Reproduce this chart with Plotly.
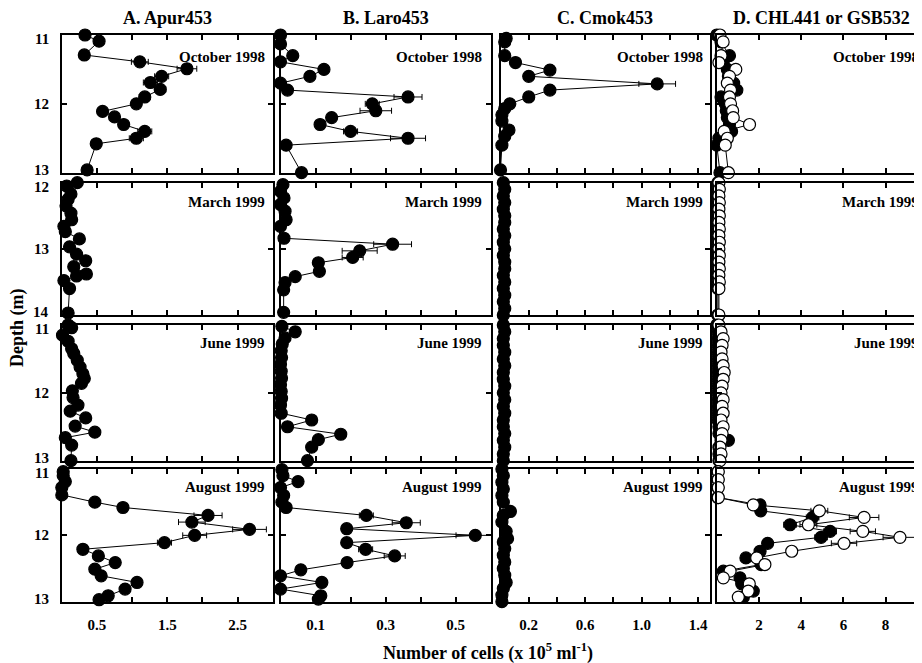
import plotly.graph_objects as go

# ---------------- DATA ----------------
# Column A: Apur453 (x 10^5 cells/ml)
A_oct_depth = [11.0, 11.09, 11.29, 11.39, 11.49, 11.6, 11.69, 11.79, 11.9, 12.0, 12.11, 12.19, 12.3, 12.4, 12.5, 12.58, 12.96]
A_oct_cells = [0.33, 0.53, 0.32, 1.11, 1.78, 1.42, 1.26, 1.40, 1.18, 1.06, 0.58, 0.75, 0.88, 1.18, 1.06, 0.49, 0.36]
A_oct_err = [0, 0, 0, 0.12, 0.14, 0.10, 0.10, 0.08, 0.08, 0.05, 0, 0, 0.05, 0.10, 0.10, 0, 0]

A_mar_depth = [12.0, 12.05, 12.17, 12.25, 12.35, 12.46, 12.56, 12.66, 12.74, 12.85, 12.97, 13.08, 13.18, 13.27, 13.38, 13.41, 13.48, 13.6, 13.97]
A_mar_cells = [0.22, 0.07, 0.13, 0.09, 0.06, 0.13, 0.14, 0.03, 0.05, 0.25, 0.11, 0.21, 0.34, 0.17, 0.35, 0.21, 0.03, 0.11, 0.09]

A_jun_depth = [11.0, 11.04, 11.15, 11.24, 11.35, 11.42, 11.52, 11.62, 11.72, 11.79, 11.86, 11.97, 12.07, 12.18, 12.27, 12.37, 12.49, 12.58, 12.66, 12.77, 13.0]
A_jun_cells = [0.09, 0.14, 0.01, 0.09, 0.14, 0.17, 0.22, 0.26, 0.30, 0.32, 0.28, 0.15, 0.16, 0.23, 0.12, 0.34, 0.19, 0.47, 0.05, 0.14, 0.13]

A_aug_depth = [11.04, 11.1, 11.19, 11.28, 11.39, 11.5, 11.58, 11.7, 11.8, 11.91, 12.0, 12.11, 12.21, 12.31, 12.41, 12.51, 12.61, 12.71, 12.81, 12.91, 12.97]
A_aug_cells = [0.02, 0.02, 0.05, 0.0, 0.0, 0.47, 0.87, 2.08, 1.85, 2.67, 1.89, 1.46, 0.30, 0.52, 0.76, 0.47, 0.56, 1.07, 0.90, 0.66, 0.53]
A_aug_err = [0, 0, 0, 0, 0, 0, 0, 0.20, 0.19, 0.24, 0.17, 0.10, 0, 0, 0, 0, 0, 0, 0, 0, 0]

# Column B: Laro453
B_oct_depth = [11.0, 11.13, 11.3, 11.39, 11.5, 11.6, 11.7, 11.8, 11.9, 12.0, 12.1, 12.2, 12.3, 12.4, 12.5, 12.6, 13.0]
B_oct_cells = [0.0, 0.0, 0.035, 0.0, 0.124, 0.084, 0.0, 0.02, 0.364, 0.262, 0.272, 0.146, 0.113, 0.20, 0.364, 0.016, 0.06]
B_oct_err = [0, 0, 0, 0, 0, 0, 0, 0, 0.04, 0.02, 0.045, 0, 0, 0.02, 0.05, 0, 0]

B_mar_depth = [12.03, 12.13, 12.23, 12.33, 12.43, 12.56, 12.66, 12.84, 12.93, 13.03, 13.13, 13.21, 13.34, 13.42, 13.51, 13.62, 13.96]
B_mar_cells = [0.007, 0.0, 0.01, 0.0, 0.013, 0.016, 0.0, 0.01, 0.32, 0.226, 0.206, 0.108, 0.111, 0.042, 0.013, 0.009, 0.009]
B_mar_err = [0, 0, 0, 0, 0, 0, 0, 0, 0.054, 0.05, 0.03, 0, 0, 0, 0, 0, 0]

B_jun_depth = [11.02, 11.1, 11.19, 11.28, 11.38, 11.48, 11.58, 11.68, 11.78, 11.88, 11.98, 12.08, 12.18, 12.3, 12.4, 12.5, 12.61, 12.69, 12.8, 13.0]
B_jun_cells = [0.004, 0.042, 0.013, 0.005, 0.002, 0.003, 0.0, 0.002, 0.003, 0.0, 0.002, 0.003, 0.0, 0.002, 0.089, 0.02, 0.172, 0.108, 0.089, 0.077]

B_aug_depth = [11.01, 11.1, 11.19, 11.28, 11.4, 11.5, 11.58, 11.7, 11.81, 11.9, 12.0, 12.11, 12.21, 12.31, 12.41, 12.52, 12.61, 12.71, 12.81, 12.91, 12.96]
B_aug_cells = [0.004, 0.007, 0.05, 0.0, 0.009, 0.004, 0.016, 0.245, 0.359, 0.189, 0.556, 0.189, 0.243, 0.326, 0.19, 0.058, 0.0, 0.118, 0.0, 0.115, 0.108]
B_aug_err = [0, 0, 0, 0, 0, 0, 0, 0.02, 0.04, 0, 0.055, 0, 0.02, 0.03, 0, 0, 0, 0, 0, 0, 0]

# Column C: Cmok453
C_oct_depth = [11.05, 11.1, 11.3, 11.4, 11.51, 11.6, 11.71, 11.8, 11.9, 12.0, 12.07, 12.16, 12.25, 12.38, 12.47, 12.6, 12.96]
C_oct_cells = [0.04, 0.03, 0.03, 0.106, 0.35, 0.20, 1.11, 0.35, 0.20, 0.066, 0.03, 0.01, 0.01, 0.06, 0.03, 0.01, 0.0]
C_oct_err = [0, 0, 0, 0, 0, 0, 0.13, 0, 0, 0, 0, 0, 0, 0, 0, 0, 0]

C_mar_depth = [12.0, 12.1, 12.2, 12.3, 12.4, 12.5, 12.6, 12.7, 12.8, 12.9, 13.0, 13.1, 13.2, 13.3, 13.4, 13.5, 13.6, 13.7, 13.8, 13.9, 14.0]
C_mar_cells = [0.02, 0.03, 0.02, 0.03, 0.02, 0.03, 0.03, 0.02, 0.03, 0.02, 0.03, 0.02, 0.03, 0.03, 0.02, 0.03, 0.02, 0.03, 0.02, 0.03, 0.02]

C_jun_depth = [11.0, 11.1, 11.2, 11.3, 11.4, 11.5, 11.6, 11.7, 11.8, 11.9, 12.0, 12.1, 12.2, 12.3, 12.4, 12.5, 12.6, 12.7, 12.8, 12.9, 13.0]
C_jun_cells = [0.02, 0.03, 0.02, 0.02, 0.03, 0.02, 0.03, 0.02, 0.02, 0.03, 0.02, 0.03, 0.02, 0.03, 0.02, 0.02, 0.03, 0.02, 0.03, 0.02, 0.02]

C_aug_depth = [11.0, 11.1, 11.2, 11.3, 11.4, 11.5, 11.64, 11.7, 11.8, 11.94, 12.05, 12.1, 12.2, 12.3, 12.4, 12.5, 12.6, 12.71, 12.8, 12.9, 13.0]
C_aug_cells = [0.01, 0.02, 0.01, 0.02, 0.01, 0.02, 0.07, 0.02, 0.01, 0.04, 0.05, 0.02, 0.03, 0.02, 0.03, 0.02, 0.03, 0.04, 0.02, 0.01, 0.01]

# Column D: CHL441 (filled) or GSB532 (open)
D_oct_depth = [11.0, 11.1, 11.3, 11.4, 11.5, 11.6, 11.7, 11.8, 11.9, 12.0, 12.1, 12.2, 12.3, 12.4, 12.5, 12.6, 13.0]
D_oct_chl = [0.0, 0.2, 0.6, 0.3, 0.5, 0.55, 0.8, 0.95, 0.2, 0.4, 0.45, 0.5, 0.6, 0.7, 0.1, 0.0, 0.15]
D_oct_gsb = [0.15, 0.3, 0.2, 0.1, 0.9, 0.6, 0.5, 0.65, 0.6, 0.65, 0.75, 0.78, 1.55, 0.35, 0.5, 0.4, 0.55]

D_mar_depth = [12.0, 12.1, 12.2, 12.3, 12.4, 12.5, 12.6, 12.7, 12.8, 12.9, 13.0, 13.1, 13.2, 13.3, 13.4, 13.5, 13.6, 14.0]
D_mar_chl = [0.05, 0.05, 0.04, 0.05, 0.05, 0.04, 0.05, 0.05, 0.04, 0.05, 0.05, 0.04, 0.05, 0.05, 0.04, 0.05, 0.05, 0.05]
D_mar_gsb = [0.1, 0.12, 0.1, 0.12, 0.1, 0.12, 0.1, 0.12, 0.1, 0.12, 0.1, 0.12, 0.1, 0.12, 0.1, 0.12, 0.1, 0.1]

D_jun_depth = [11.0, 11.1, 11.2, 11.3, 11.4, 11.5, 11.6, 11.7, 11.8, 11.9, 12.0, 12.1, 12.2, 12.3, 12.4, 12.5, 12.6, 12.7, 12.8, 12.9, 13.0]
D_jun_chl = [0.0, 0.05, 0.05, 0.05, 0.05, 0.05, 0.05, 0.05, 0.05, 0.05, 0.05, 0.05, 0.05, 0.05, 0.05, 0.1, 0.1, 0.55, 0.1, 0.1, 0.1]
D_jun_gsb = [0.1, 0.2, 0.3, 0.25, 0.2, 0.25, 0.3, 0.35, 0.3, 0.25, 0.2, 0.3, 0.25, 0.3, 0.2, 0.3, 0.25, 0.2, 0.15, 0.2, 0.15]

D_aug_depth = [11.04, 11.16, 11.28, 11.43, 11.54, 11.63, 11.73, 11.84, 11.94, 12.03, 12.12, 12.24, 12.34, 12.44, 12.54, 12.64, 12.73, 12.84, 12.93]
D_aug_chl = [0.05, 0.05, 0.05, 0.05, 2.05, 2.08, 4.54, 3.47, 5.37, 4.94, 2.41, 2.05, 1.38, 2.1, 0.31, 1.1, 1.18, 1.73, 1.26]
D_aug_chl_err = [0, 0, 0, 0, 0, 0, 0.3, 0.3, 0.3, 0.3, 0, 0, 0, 0, 0, 0, 0, 0, 0]
D_aug_gsb = [0.07, 0.07, 0.07, 0.07, 1.73, 4.86, 6.98, 4.34, 6.92, 8.68, 6.03, 3.55, 1.89, 2.28, 0.63, 0.31, 1.54, 1.49, 1.02]
D_aug_gsb_err = [0, 0, 0, 0, 0, 0.4, 0.7, 0.4, 0.6, 0.8, 0.6, 0, 0, 0, 0, 0, 0, 0, 0]

column_titles = ["A. Apur453", "B. Laro453", "C. Cmok453", "D. CHL441 or GSB532"]
month_labels = ["October 1998", "March 1999", "June 1999", "August 1999"]
x_tickvals = [[0.5, 1.0, 1.5, 2.0, 2.5], [0.1, 0.2, 0.3, 0.4, 0.5],
              [0.2, 0.4, 0.6, 0.8, 1.0, 1.2, 1.4], [2, 4, 6, 8]]
x_ticktext = [["0.5", "", "1.5", "", "2.5"], ["0.1", "", "0.3", "", "0.5"],
              ["0.2", "", "0.6", "", "1.0", "", "1.4"], ["2", "4", "6", "8"]]
y_tickvals = [[11, 12, 13], [12, 13, 14], [11, 12, 13], [11, 12, 13]]

# ---------------- LAYOUT GEOMETRY (page pixels) ----------------
OFF = 8  # page body margin offset
W, H = 922 - OFF, 663 - OFF
col_px = [(61.8, 272.7), (280.5, 490.7), (500.5, 710.0), (716.8, 922.0)]
row_px = [(35.0, 172.7), (182.7, 315.0), (325.0, 460.7), (469.0, 601.7)]
x_ranges = [[0, 3.0], [0, 0.6], [0, 1.484], [0, 9.725]]
y_ranges = [[13, 11], [14, 12], [13, 11], [13, 11]]
month_right_px = [266.5, 484.0, 705.0, 921.0]
month_y_px = [57.0, 201.7, 343.3, 487.3]
ylabel_right_px = 50.5

FONT = "Liberation Serif"


def px_x(p):
    return (p - OFF) / W


def px_y(p):
    return 1 - (p - OFF) / H


fig = go.Figure()


def ax_id(k):
    return "" if k == 1 else str(k)


def add_series(r, c, cells, depth, err=None, hollow=False):
    k = r * 4 + c + 1
    fig.add_trace(go.Scatter(
        x=cells, y=depth, xaxis="x" + ax_id(k), yaxis="y" + ax_id(k),
        mode="lines+markers",
        line=dict(color="black", width=1),
        marker=dict(size=12, color="white" if hollow else "black",
                    line=dict(color="black", width=1.2)),
        error_x=dict(type="data", array=err if err is not None else [],
                     visible=err is not None, color="black", thickness=1, width=3),
        cliponaxis=False, showlegend=False, hoverinfo="x+y"))


# Column A
add_series(0, 0, A_oct_cells, A_oct_depth, A_oct_err)
add_series(1, 0, A_mar_cells, A_mar_depth)
add_series(2, 0, A_jun_cells, A_jun_depth)
add_series(3, 0, A_aug_cells, A_aug_depth, A_aug_err)
# Column B
add_series(0, 1, B_oct_cells, B_oct_depth, B_oct_err)
add_series(1, 1, B_mar_cells, B_mar_depth, B_mar_err)
add_series(2, 1, B_jun_cells, B_jun_depth)
add_series(3, 1, B_aug_cells, B_aug_depth, B_aug_err)
# Column C
add_series(0, 2, C_oct_cells, C_oct_depth, C_oct_err)
add_series(1, 2, C_mar_cells, C_mar_depth)
add_series(2, 2, C_jun_cells, C_jun_depth)
add_series(3, 2, C_aug_cells, C_aug_depth)
# Column D
add_series(0, 3, D_oct_chl, D_oct_depth)
add_series(0, 3, D_oct_gsb, D_oct_depth, hollow=True)
add_series(1, 3, D_mar_chl, D_mar_depth)
add_series(1, 3, D_mar_gsb, D_mar_depth, hollow=True)
add_series(2, 3, D_jun_chl, D_jun_depth)
add_series(2, 3, D_jun_gsb, D_jun_depth, hollow=True)
add_series(3, 3, D_aug_chl, D_aug_depth, D_aug_chl_err)
add_series(3, 3, D_aug_gsb, D_aug_depth, D_aug_gsb_err, hollow=True)

tickfont = dict(family=FONT, size=15, color="black", weight="bold")
layout_axes = {}
for r in range(4):
    for c in range(4):
        k = r * 4 + c + 1
        x0, x1 = col_px[c]
        yt, yb = row_px[r]
        layout_axes["xaxis" + ax_id(k)] = dict(
            domain=[max(0, px_x(x0)), min(1, px_x(x1))], anchor="y" + ax_id(k), range=x_ranges[c],
            tickmode="array", tickvals=x_tickvals[c], ticktext=x_ticktext[c],
            ticks="inside", ticklen=5, tickwidth=1.5, tickcolor="black",
            showline=True, linecolor="black", linewidth=2, mirror="ticks",
            showgrid=False, zeroline=False, showticklabels=(r == 3),
            tickfont=tickfont, ticklabelstandoff=8)
        layout_axes["yaxis" + ax_id(k)] = dict(
            domain=[px_y(yb), px_y(yt)], anchor="x" + ax_id(k), range=y_ranges[r],
            tickmode="array", tickvals=y_tickvals[r],
            ticks="inside", ticklen=5, tickwidth=1.5, tickcolor="black",
            showline=True, linecolor="black", linewidth=2,
            mirror=("ticks" if c < 3 else False),
            showgrid=False, zeroline=False, showticklabels=False)

annotations = []
# depth tick labels of the left column, kept just inside each panel's height
for r in range(4):
    yt, yb = row_px[r]
    lo, hi = y_ranges[r][1], y_ranges[r][0]
    for v in y_tickvals[r]:
        py = yt + (v - lo) / (hi - lo) * (yb - yt)
        py = min(max(py, yt + 4), yb - 3)
        annotations.append(dict(text=str(v), x=px_x(ylabel_right_px), y=px_y(py),
                                xref="paper", yref="paper", xanchor="right", yanchor="middle",
                                showarrow=False, font=tickfont))
for c, t in enumerate(column_titles):
    x0, x1 = col_px[c]
    cx = (x0 + x1) / 2 if c < 3 else (x0 + 210 / 2)
    annotations.append(dict(text=t, x=px_x(cx), y=px_y(18), xref="paper", yref="paper",
                            xanchor="center", yanchor="middle", showarrow=False,
                            font=dict(family=FONT, size=18, color="black", weight="bold")))
for r, m in enumerate(month_labels):
    for c in range(4):
        annotations.append(dict(text=m, x=px_x(month_right_px[c]), y=px_y(month_y_px[r]),
                                xref="paper", yref="paper", xanchor="right", yanchor="middle",
                                showarrow=False,
                                font=dict(family=FONT, size=15, color="black", weight="bold")))
annotations.append(dict(text="Depth (m)", x=px_x(18), y=px_y(328), xref="paper", yref="paper",
                        textangle=-90, xanchor="center", yanchor="middle", showarrow=False,
                        font=dict(family=FONT, size=18, color="black", weight="bold")))
annotations.append(dict(text="Number of cells (x 10<sup>5</sup> ml<sup>-1</sup>)",
                        x=px_x(488), y=px_y(652), xref="paper", yref="paper",
                        xanchor="center", yanchor="middle", showarrow=False,
                        font=dict(family=FONT, size=18, color="black", weight="bold")))

fig.update_layout(
    width=W, height=H,
    margin=dict(l=0, r=0, t=0, b=0, autoexpand=False),
    paper_bgcolor="white", plot_bgcolor="white",
    showlegend=False,
    annotations=annotations,
    **layout_axes)

fig.write_html("out.html")
